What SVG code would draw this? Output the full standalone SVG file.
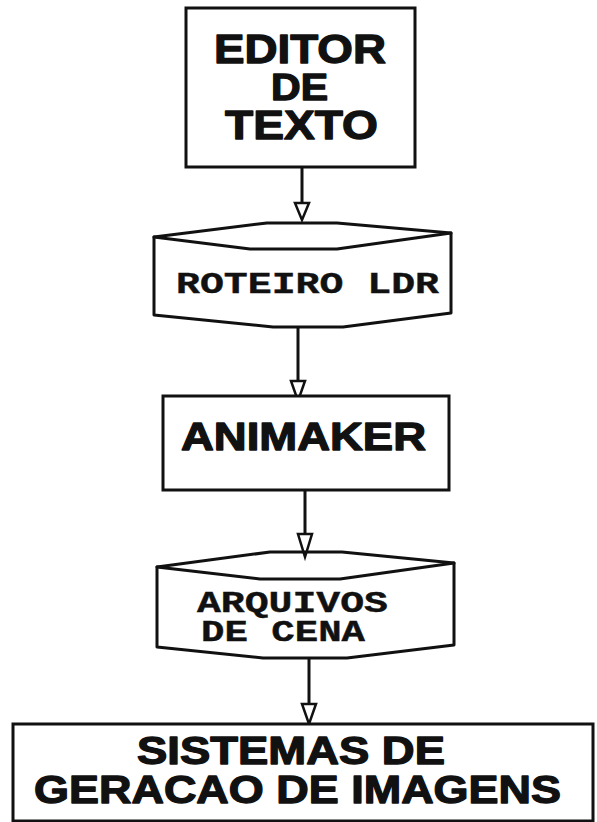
<svg xmlns="http://www.w3.org/2000/svg" width="597" height="822" viewBox="0 0 597 822">
<style>
.box{fill:#fff;stroke:#111;stroke-width:3;stroke-linejoin:miter}
.ln{fill:none;stroke:#111;stroke-width:3;stroke-linejoin:round;stroke-linecap:round}
.conn{fill:none;stroke:#111;stroke-width:3}
.head{fill:#fff;stroke:#111;stroke-width:2.5;stroke-linejoin:miter}
.bt{font-family:"Liberation Sans",Arial,Helvetica,sans-serif;font-weight:bold;fill:#111;stroke:#111;stroke-width:1.3;stroke-linejoin:round}
.mt{font-family:"Liberation Mono","Courier New",monospace;font-weight:bold;fill:#111;stroke:#111;stroke-width:0.4}
</style>
<rect width="597" height="822" fill="#fff"/>
<g id="connectors">
<line class="conn" x1="302" y1="167" x2="302" y2="203"/>
<polygon class="head" points="295,203 309,203 302,220"/>
<line class="conn" x1="298" y1="327" x2="298" y2="381"/>
<polygon class="head" points="291,381 305,381 298,401"/>
<line class="conn" x1="305" y1="490" x2="305" y2="534"/>
<polygon class="head" points="298,534 312,534 305,557"/>
<line class="conn" x1="309" y1="658" x2="309" y2="704"/>
<polygon class="head" points="302,704 316,704 309,724"/>
</g>
<g id="editor">
<rect class="box" x="186" y="8" width="229" height="159"/>
<text class="bt" x="214" y="63" font-size="41" textLength="172" lengthAdjust="spacingAndGlyphs">EDITOR</text>
<text class="bt" x="271" y="100" font-size="36" textLength="57" lengthAdjust="spacingAndGlyphs">DE</text>
<text class="bt" x="225" y="139" font-size="40" textLength="153" lengthAdjust="spacingAndGlyphs">TEXTO</text>
</g>
<g id="roteiro">
<path class="ln" d="M154,237 L267,223 L337,223 L451,233 V313 L343,327 L273,327 L154,315 Z" fill="#fff"/>
<path class="ln" d="M154,237 L250,249 L337,249 L451,233"/>
<text class="mt" x="176" y="293" font-size="29" textLength="263" lengthAdjust="spacingAndGlyphs">ROTEIRO LDR</text>
</g>
<g id="animaker">
<rect class="box" x="163" y="396" width="286" height="94"/>
<text class="bt" x="181" y="450" font-size="39" textLength="245" lengthAdjust="spacingAndGlyphs">ANIMAKER</text>
</g>
<g id="arquivos">
<path class="ln" d="M157,567 L270,552 L342,552 L454,563 V645 L347,658 L263,658 L157,647 Z" fill="#fff"/>
<path class="ln" d="M157,567 L260,579 L340,579 L454,563"/>
<text class="mt" x="197" y="612" font-size="29" textLength="191" lengthAdjust="spacingAndGlyphs">ARQUIVOS</text>
<text class="mt" x="201" y="641" font-size="29" textLength="164" lengthAdjust="spacingAndGlyphs">DE CENA</text>
</g>
<g id="sistemas">
<rect class="box" x="13" y="724" width="580" height="97"/>
<text class="bt" x="137" y="764" font-size="38" textLength="308" lengthAdjust="spacingAndGlyphs">SISTEMAS DE</text>
<text class="bt" x="34" y="803" font-size="39" textLength="527" lengthAdjust="spacingAndGlyphs">GERACAO DE IMAGENS</text>
</g>
</svg>
